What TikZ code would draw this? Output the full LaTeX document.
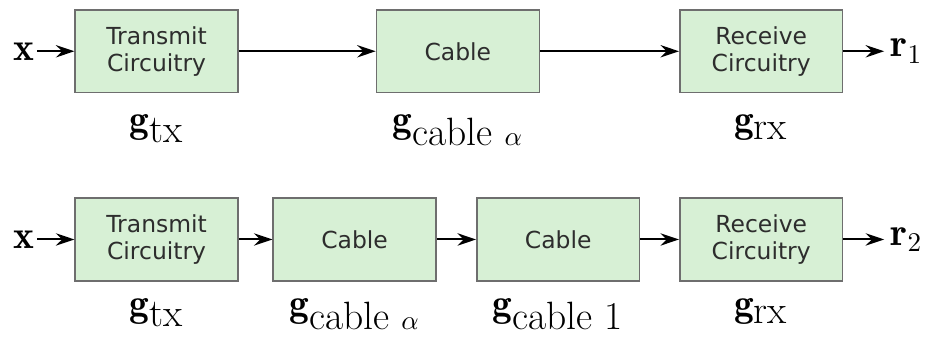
\documentclass[tikz,border=0pt]{standalone}
\usepackage{xcolor}
\usepackage{tikz}
\usetikzlibrary{positioning, arrows.meta}
\usepackage{amsmath}
\usepackage{fontspec}
\newfontfamily\blockfont{DejaVu Sans}
\definecolor{blockgreen}{RGB}{215,240,213}
\definecolor{blockgray}{RGB}{110,110,110}
\definecolor{blocktext}{RGB}{45,45,45}

\begin{document}
\begin{tikzpicture}[
    block/.style={rectangle, draw=blockgray, fill=blockgreen, line width=0.6pt, minimum width=2.32cm, minimum height=1.18cm, align=center, text=blocktext, font=\blockfont\fontsize{9.5}{10.8}\selectfont},
    arrow/.style={-{Stealth[length=7.5pt, width=5pt, inset=2.5pt]}, line width=0.8pt},
    sig/.style={inner sep=1pt, font=\fontsize{16}{19}\selectfont},
    outsig/.style={inner sep=2.5pt, font=\fontsize{16}{19}\selectfont},
    gain/.style={inner sep=1pt, font=\fontsize{16}{19}\selectfont}
]
    \useasboundingbox (0,0) rectangle (13.215,-4.785);

    % Upper chain: single cable
    \node[block] (tx1) at (2.23, -0.73) {Transmit\\Circuitry};
    \node[block] (cab1) at (6.52, -0.73) {Cable};
    \node[block] (rx1) at (10.84, -0.73) {Receive\\Circuitry};
    \node[sig, left=0.53cm of tx1] (in1) {$\mathbf{x}$};
    \node[outsig, right=0.58cm of rx1] (out1) {$\mathbf{r}_1$};

    \draw[arrow] (in1) -- (tx1);
    \draw[arrow] (tx1) -- (cab1);
    \draw[arrow] (cab1) -- (rx1);
    \draw[arrow] (rx1) -- (out1);

    \node[gain, below=0.26cm of tx1] (gtx1) {$\mathbf{g}_{\mbox{tx}}$};
    \node[gain, below=0.26cm of cab1] (gcab1) {$\mathbf{g}_{\mbox{cable }\alpha}$};
    \node[gain, below=0.26cm of rx1] (grx1) {$\mathbf{g}_{\mbox{rx}}$};

    % Lower chain: two cables
    \node[block] (tx2) at (2.23, -3.41) {Transmit\\Circuitry};
    \node[block] (cabA) at (5.05, -3.41) {Cable};
    \node[block] (cabB) at (7.95, -3.41) {Cable};
    \node[block] (rx2) at (10.84, -3.41) {Receive\\Circuitry};
    \node[sig, left=0.53cm of tx2] (in2) {$\mathbf{x}$};
    \node[outsig, right=0.58cm of rx2] (out2) {$\mathbf{r}_2$};

    \draw[arrow] (in2) -- (tx2);
    \draw[arrow] (tx2) -- (cabA);
    \draw[arrow] (cabA) -- (cabB);
    \draw[arrow] (cabB) -- (rx2);
    \draw[arrow] (rx2) -- (out2);

    \node[gain, below=0.2cm of tx2] (gtx2) {$\mathbf{g}_{\mbox{tx}}$};
    \node[gain, below=0.2cm of cabA] (gcabA) {$\mathbf{g}_{\mbox{cable }\alpha}$};
    \node[gain, below=0.2cm of cabB] (gcabB) {$\mathbf{g}_{\mbox{cable 1}}$};
    \node[gain, below=0.2cm of rx2] (grx2) {$\mathbf{g}_{\mbox{rx}}$};
\end{tikzpicture}
\end{document}
